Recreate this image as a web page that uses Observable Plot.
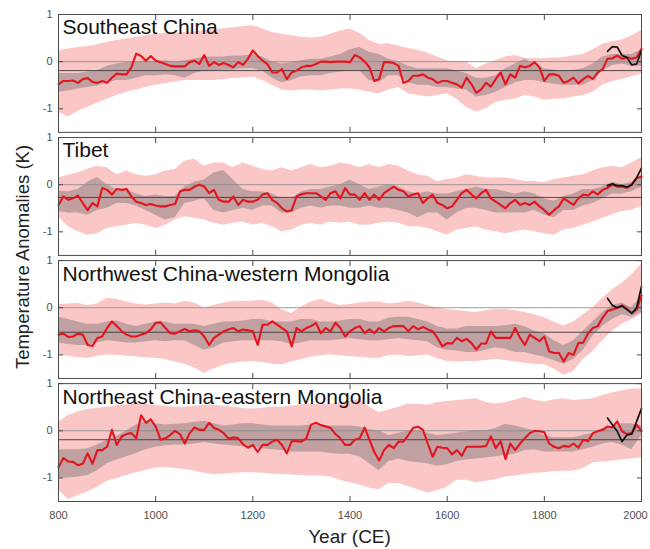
<!DOCTYPE html>
<html><head><meta charset="utf-8">
<script src="https://cdn.jsdelivr.net/npm/d3@7"></script>
<script src="https://cdn.jsdelivr.net/npm/@observablehq/plot@0.6"></script>
<style>body{margin:0;background:#fff}</style>
</head><body><div id="chart"></div>
<script>
const regions = ["Southeast China","Tibet","Northwest China-western Mongolia","Northeast China-eastern Mongolia"];
const meanLines = [-0.19,-0.27,-0.52,-0.19];
const bandYears = d3.range(800, 2001, 20);
const lineYears = d3.range(800, 2001, 10);
const instYears = [1930,1940,1950,1960,1970,1980,1990,2000];
const xTicks = [800,1000,1200,1400,1600,1800,2000];
const xLabelsInner = [800,1000,1200,1400,1600,1800];
const xLabelsEnd = [2000];
const yTicks = [-1,0,1];

// ---- Southeast China ----
const sePinkHi = [0.23,0.27,0.3,0.32,0.36,0.41,0.45,0.48,0.52,0.55, 0.58,0.6,0.6,0.62,0.63,0.66,0.68,0.7,0.72,0.74, 0.76,0.7,0.62,0.58,0.55,0.52,0.5,0.52,0.58,0.65, 0.69,0.6,0.45,0.37,0.38,0.33,0.28,0.24,0.18,0.1, 0.02,0.0,-0.01,-0.15,-0.05,0.02,0.1,0.13,0.07,0.06, 0.06,0.08,0.09,0.12,0.15,0.25,0.37,0.42,0.46,0.55, 0.66];
const sePinkLo = [-1.07,-1.18,-1.05,-0.97,-0.88,-0.8,-0.72,-0.65,-0.6,-0.55, -0.5,-0.47,-0.43,-0.4,-0.4,-0.4,-0.4,-0.38,-0.36,-0.34, -0.33,-0.4,-0.5,-0.6,-0.62,-0.6,-0.6,-0.62,-0.6,-0.58, -0.58,-0.6,-0.65,-0.68,-0.6,-0.55,-0.68,-0.72,-0.75,-0.72, -0.68,-0.8,-0.97,-1.07,-1.0,-0.86,-0.82,-0.79,-0.72,-0.75, -0.82,-0.8,-0.79,-0.75,-0.72,-0.65,-0.5,-0.42,-0.38,-0.32, -0.26];
const seGreyHi = [-0.25,-0.25,-0.25,-0.22,-0.2,-0.1,-0.05,-0.02,0.0,0.02, 0.0,0.02,0.0,0.02,0.05,0.1,0.1,0.1,0.12,0.12, 0.15,0.1,0.0,-0.05,-0.02,0.02,0.05,0.05,0.1,0.15, 0.25,0.3,0.2,0.15,0.05,0.0,-0.1,-0.15,-0.15,-0.15, -0.15,-0.2,-0.25,-0.35,-0.35,-0.3,-0.15,-0.05,0.05,-0.05, -0.15,-0.18,-0.2,-0.18,-0.15,-0.05,0.1,0.15,0.15,0.15, 0.25];
const seGreyLo = [-0.65,-0.62,-0.58,-0.55,-0.52,-0.45,-0.4,-0.4,-0.35,-0.3, -0.3,-0.28,-0.3,-0.35,-0.25,-0.2,-0.2,-0.18,-0.18,-0.15, -0.15,-0.2,-0.35,-0.45,-0.4,-0.32,-0.3,-0.3,-0.25,-0.22, -0.2,-0.2,-0.4,-0.45,-0.3,-0.3,-0.45,-0.5,-0.5,-0.55, -0.55,-0.58,-0.6,-0.75,-0.72,-0.65,-0.55,-0.45,-0.4,-0.4, -0.45,-0.48,-0.5,-0.5,-0.5,-0.4,-0.2,-0.08,-0.05,-0.1, -0.1];
const seRed = [-0.48,-0.41,-0.41,-0.40,-0.45,-0.37,-0.35,-0.43,-0.45,-0.41,
 -0.45,-0.34,-0.25,-0.27,-0.27,-0.12,0.17,0.12,0.02,0.12,
 0.02,-0.01,-0.05,-0.09,-0.1,-0.1,-0.1,-0.01,0.02,-0.05,
 0.14,-0.09,-0.01,-0.07,-0.03,-0.07,-0.12,-0.01,-0.07,0.06,
 0.24,0.12,0.02,-0.05,-0.23,-0.23,-0.16,-0.37,-0.23,-0.19,
 -0.12,-0.09,-0.09,-0.05,0,0,-0.01,0,0,0,
 -0.01,0.14,0.09,0,-0.12,-0.41,-0.37,-0.01,-0.01,-0.03,
 -0.09,-0.45,-0.41,-0.3,-0.3,-0.27,-0.34,-0.37,-0.45,-0.41,
 -0.41,-0.45,-0.48,-0.55,-0.34,-0.48,-0.66,-0.59,-0.45,-0.53,
 -0.37,-0.23,-0.48,-0.27,-0.34,-0.09,-0.12,-0.09,-0.01,-0.12,
 -0.41,-0.27,-0.27,-0.3,-0.45,-0.41,-0.34,-0.46,-0.37,-0.3,
 -0.37,-0.23,-0.16,0.06,0.07,0.13,0.06,0.09,0.06,0.09,
 0.27];
const seInst = [0.22,0.32,0.31,0.13,0.09,-0.07,-0.05,0.24];

// ---- Tibet ----
const tbPinkHi = [0.14,0.2,0.25,0.33,0.39,0.36,0.21,0.29,0.21,0.18, 0.21,0.29,0.32,0.5,0.54,0.39,0.46,0.46,0.36,0.46, 0.39,0.32,0.29,0.36,0.29,0.36,0.43,0.36,0.39,0.46, 0.43,0.36,0.43,0.36,0.43,0.39,0.29,0.21,0.18,0.07, 0.11,0.14,0.21,0.18,0.14,0.14,0.14,0.11,0.07,0.07, 0.04,0.11,0.14,0.18,0.21,0.29,0.36,0.39,0.36,0.46, 0.57];
const tbPinkLo = [-0.68,-0.89,-1.0,-1.07,-1.04,-0.93,-0.89,-0.86,-0.82,-0.86, -0.93,-0.86,-0.75,-0.68,-0.71,-0.75,-0.82,-0.86,-0.82,-0.79, -0.86,-0.82,-0.89,-1.0,-0.96,-0.86,-0.82,-0.86,-0.79,-0.82, -0.79,-0.86,-0.86,-0.82,-0.79,-0.82,-0.89,-0.89,-0.93,-1.0, -1.07,-0.96,-0.93,-0.89,-0.96,-1.0,-1.04,-1.0,-0.96,-1.0, -1.04,-1.07,-0.96,-0.93,-0.86,-0.79,-0.71,-0.64,-0.57,-0.54, -0.46];
const tbGreyHi = [-0.14,-0.15,-0.1,0.05,0.15,0.0,-0.1,-0.1,-0.2,-0.25, -0.22,-0.25,-0.25,-0.05,0.05,0.1,0.25,0.3,0.1,-0.1, -0.15,-0.15,-0.2,-0.3,-0.3,-0.15,-0.1,-0.1,-0.05,0.0, 0.1,0.0,-0.1,-0.05,0.0,-0.05,-0.15,-0.2,-0.15,-0.2, -0.2,-0.15,-0.1,-0.05,-0.1,-0.1,-0.15,-0.2,-0.15,-0.2, -0.3,-0.35,-0.25,-0.2,-0.1,-0.1,-0.05,0.05,0.0,0.05, 0.2];
const tbGreyLo = [-0.57,-0.6,-0.6,-0.65,-0.55,-0.5,-0.4,-0.4,-0.45,-0.55, -0.65,-0.75,-0.7,-0.4,-0.35,-0.3,-0.55,-0.6,-0.55,-0.5, -0.55,-0.45,-0.45,-0.6,-0.6,-0.5,-0.45,-0.5,-0.45,-0.45, -0.5,-0.5,-0.45,-0.5,-0.5,-0.55,-0.6,-0.7,-0.6,-0.6, -0.75,-0.6,-0.5,-0.5,-0.55,-0.6,-0.6,-0.6,-0.6,-0.55, -0.65,-0.7,-0.55,-0.55,-0.45,-0.4,-0.3,-0.2,-0.2,-0.15, -0.05];
const tbRed = [-0.43,-0.25,-0.32,-0.29,-0.23,-0.39,-0.54,-0.39,-0.46,-0.07,
 -0.11,-0.21,-0.09,-0.11,-0.09,-0.25,-0.36,-0.39,-0.43,-0.41,
 -0.44,-0.46,-0.46,-0.43,-0.41,-0.14,-0.11,-0.11,-0.04,0,
 -0.04,-0.18,-0.11,-0.32,-0.36,-0.36,-0.25,-0.43,-0.32,-0.36,
 -0.36,-0.32,-0.21,-0.18,-0.32,-0.39,-0.5,-0.57,-0.54,-0.25,
 -0.2,-0.18,-0.18,-0.18,-0.25,-0.32,-0.18,-0.14,-0.29,-0.07,
 -0.21,-0.21,-0.32,-0.18,-0.32,-0.21,-0.32,-0.18,-0.11,-0.04,
 -0.11,-0.14,-0.25,-0.21,-0.18,-0.39,-0.29,-0.21,-0.39,-0.43,
 -0.5,-0.46,-0.32,-0.18,-0.11,-0.21,-0.29,-0.18,-0.11,-0.29,
 -0.36,-0.43,-0.5,-0.39,-0.32,-0.43,-0.39,-0.43,-0.36,-0.46,
 -0.54,-0.64,-0.54,-0.46,-0.29,-0.36,-0.43,-0.29,-0.21,-0.23,
 -0.14,-0.21,-0.11,-0.07,0,-0.04,-0.04,-0.07,0,0.14,
 0.17];
const tbInst = [-0.02,0.02,-0.02,-0.02,-0.05,0.0,0.15,0.35];

// ---- Northwest China-western Mongolia ----
const nwPinkHi = [0.07,0.08,0.09,0.05,0.08,0.2,0.18,0.12,0.08,0.06, 0.08,0.1,0.08,0.14,0.1,0.0,0.05,0.1,0.14,0.13, 0.14,0.16,0.1,-0.05,-0.12,0.02,0.12,0.18,0.1,0.05, 0.07,0.1,0.12,0.12,0.08,0.1,0.14,0.1,0.04,0.0, -0.04,-0.06,-0.08,-0.1,-0.06,-0.04,-0.04,-0.06,-0.1,-0.15, -0.21,-0.3,-0.39,-0.3,-0.15,0.0,0.2,0.38,0.52,0.7, 0.92];
const nwPinkLo = [-1.0,-1.03,-1.06,-1.07,-1.03,-1.0,-1.01,-1.03,-1.04,-1.06, -1.07,-1.1,-1.15,-1.2,-1.28,-1.39,-1.3,-1.22,-1.18,-1.15, -1.14,-1.16,-1.2,-1.21,-1.15,-1.1,-1.05,-1.02,-1.0,-1.02, -1.04,-1.05,-1.07,-1.07,-1.02,-1.0,-1.04,-1.02,-1.0,-1.08, -1.14,-1.15,-1.14,-1.14,-1.12,-1.1,-1.12,-1.15,-1.18,-1.2, -1.21,-1.3,-1.43,-1.35,-1.1,-0.93,-0.7,-0.5,-0.35,-0.25, -0.14];
const nwGreyHi = [-0.2,-0.25,-0.3,-0.35,-0.35,-0.3,-0.28,-0.35,-0.4,-0.35, -0.3,-0.3,-0.35,-0.35,-0.35,-0.4,-0.35,-0.3,-0.3,-0.28, -0.25,-0.25,-0.3,-0.3,-0.3,-0.25,-0.25,-0.3,-0.3,-0.28, -0.25,-0.25,-0.3,-0.3,-0.22,-0.2,-0.2,-0.25,-0.3,-0.4, -0.45,-0.45,-0.4,-0.4,-0.4,-0.4,-0.38,-0.35,-0.4,-0.5, -0.55,-0.7,-0.8,-0.7,-0.5,-0.3,-0.1,0.05,0.1,0.0, 0.25];
const nwGreyLo = [-0.75,-0.78,-0.8,-0.8,-0.75,-0.7,-0.72,-0.75,-0.75,-0.72, -0.7,-0.72,-0.7,-0.7,-0.8,-0.9,-0.85,-0.75,-0.72,-0.7, -0.7,-0.7,-0.7,-0.72,-0.78,-0.75,-0.7,-0.7,-0.7,-0.68, -0.65,-0.68,-0.7,-0.7,-0.68,-0.65,-0.68,-0.7,-0.72,-0.85, -0.9,-0.92,-0.95,-0.95,-0.9,-0.85,-0.88,-0.95,-0.95,-1.0, -1.05,-1.12,-1.2,-1.1,-0.9,-0.6,-0.4,-0.25,-0.15,-0.2, -0.1];
const nwRed = [-0.57,-0.55,-0.62,-0.61,-0.55,-0.57,-0.79,-0.81,-0.64,-0.61,
 -0.43,-0.29,-0.39,-0.5,-0.57,-0.61,-0.61,-0.57,-0.54,-0.46,
 -0.32,-0.31,-0.43,-0.54,-0.55,-0.5,-0.45,-0.5,-0.48,-0.5,
 -0.61,-0.79,-0.64,-0.57,-0.5,-0.46,-0.43,-0.5,-0.46,-0.48,
 -0.5,-0.79,-0.36,-0.36,-0.29,-0.36,-0.43,-0.5,-0.82,-0.43,
 -0.5,-0.43,-0.39,-0.32,-0.54,-0.43,-0.5,-0.32,-0.43,-0.61,
 -0.5,-0.43,-0.39,-0.54,-0.46,-0.54,-0.43,-0.5,-0.43,-0.39,
 -0.39,-0.39,-0.5,-0.39,-0.46,-0.41,-0.46,-0.5,-0.64,-0.82,
 -0.75,-0.76,-0.64,-0.71,-0.66,-0.75,-0.89,-0.76,-0.76,-0.5,
 -0.64,-0.64,-0.64,-0.64,-0.43,-0.64,-0.79,-0.57,-0.64,-0.71,
 -0.61,-0.93,-0.96,-0.96,-1.14,-0.96,-1.0,-0.75,-0.74,-0.54,
 -0.43,-0.39,-0.21,-0.07,-0.04,0,0.05,-0.02,-0.11,-0.04,
 0.26];
const nwInst = [0.2,0.05,0.0,0.04,-0.04,-0.12,0.0,0.45];

// ---- Northeast China-eastern Mongolia ----
const nePinkHi = [0.18,0.32,0.4,0.45,0.48,0.5,0.53,0.55,0.57,0.56, 0.54,0.52,0.5,0.5,0.52,0.54,0.54,0.52,0.5,0.47, 0.46,0.48,0.5,0.5,0.52,0.55,0.57,0.55,0.56,0.6, 0.62,0.68,0.5,0.39,0.44,0.5,0.57,0.56,0.54,0.6, 0.62,0.64,0.66,0.68,0.6,0.57,0.6,0.65,0.71,0.65, 0.61,0.66,0.68,0.64,0.66,0.68,0.75,0.8,0.85,0.88, 0.89];
const nePinkLo = [-1.25,-1.46,-1.38,-1.3,-1.2,-1.07,-1.02,-0.95,-0.89,-0.84, -0.79,-0.78,-0.8,-0.82,-0.86,-0.9,-0.93,-0.92,-0.9,-0.89, -0.89,-0.9,-0.92,-0.93,-0.94,-0.95,-0.96,-0.96,-0.98,-1.05, -1.1,-1.15,-1.22,-1.25,-1.12,-1.12,-1.18,-1.25,-1.32,-1.27, -1.2,-1.05,-1.05,-1.1,-1.07,-1.04,-0.98,-0.96,-0.93,-0.9, -0.89,-0.87,-0.86,-0.86,-0.8,-0.68,-0.66,-0.64,-0.62,-0.6, -0.57];
const neGreyHi = [-0.4,-0.4,-0.4,-0.38,-0.3,-0.2,-0.12,0.0,0.12,0.2, 0.15,0.12,0.14,0.15,0.18,0.2,0.15,0.1,0.12,0.15, 0.15,0.12,0.1,0.1,0.1,0.1,0.12,0.12,0.1,0.1, 0.1,0.08,0.02,0.0,-0.1,-0.05,0.0,0.0,-0.05,-0.1, -0.08,-0.05,-0.02,0.0,0.0,0.05,0.14,0.1,0.05,0.0, -0.1,-0.15,-0.15,-0.15,-0.1,-0.05,0.05,0.1,0.15,0.15, 0.1];
const neGreyLo = [-1.0,-1.0,-0.98,-0.95,-0.85,-0.7,-0.62,-0.55,-0.48,-0.4, -0.35,-0.32,-0.3,-0.3,-0.28,-0.25,-0.28,-0.3,-0.32,-0.34, -0.35,-0.38,-0.4,-0.42,-0.45,-0.45,-0.45,-0.45,-0.48,-0.5, -0.5,-0.55,-0.7,-0.85,-0.65,-0.6,-0.65,-0.68,-0.7,-0.75, -0.72,-0.65,-0.62,-0.6,-0.58,-0.55,-0.52,-0.5,-0.42,-0.4, -0.45,-0.45,-0.45,-0.45,-0.4,-0.35,-0.28,-0.25,-0.3,-0.4, -0.1];
const neRed = [-0.77,-0.58,-0.65,-0.66,-0.73,-0.7,-0.48,-0.7,-0.41,-0.41,
 -0.34,0.02,-0.3,-0.12,-0.07,-0.05,-0.16,0.33,0.17,0.24,
 0.09,-0.19,-0.16,-0.09,0,-0.07,-0.27,-0.05,0.07,0.02,
 0.02,0.17,0.06,0.02,-0.05,-0.17,-0.14,-0.16,-0.29,-0.36,
 -0.3,-0.45,-0.3,-0.3,-0.23,-0.19,-0.3,-0.48,-0.22,-0.22,
 -0.23,-0.16,0.13,0.17,0.12,0.09,0.06,-0.07,-0.16,-0.3,
 -0.3,-0.19,-0.16,0.07,-0.19,-0.45,-0.63,-0.41,-0.3,-0.37,
 -0.23,-0.23,-0.09,0.06,0.09,0.02,-0.27,-0.55,-0.34,-0.36,
 -0.37,-0.5,-0.41,-0.53,-0.34,-0.34,-0.34,-0.34,-0.32,-0.12,
 -0.37,-0.22,-0.6,-0.27,-0.41,-0.27,-0.16,-0.05,0,-0.01,
 -0.03,-0.27,-0.34,-0.37,-0.32,-0.34,-0.27,-0.36,-0.19,-0.22,
 -0.05,-0.01,0.02,0.09,0.07,0.2,-0.01,-0.07,-0.05,0.13,
 -0.01];
const neInst = [0.27,0.13,-0.01,-0.23,-0.09,-0.07,0.2,0.47];

// ---- assemble tables ----
const pinkHi = [sePinkHi, tbPinkHi, nwPinkHi, nePinkHi];
const pinkLo = [sePinkLo, tbPinkLo, nwPinkLo, nePinkLo];
const greyHi = [seGreyHi, tbGreyHi, nwGreyHi, neGreyHi];
const greyLo = [seGreyLo, tbGreyLo, nwGreyLo, neGreyLo];
const reds = [seRed, tbRed, nwRed, neRed];
const insts = [seInst, tbInst, nwInst, neInst];

const bands = regions.flatMap((r, i) => bandYears.map((yr, j) => ({
  region: r, year: yr, pLo: pinkLo[i][j], pHi: pinkHi[i][j], gLo: greyLo[i][j], gHi: greyHi[i][j]
})));
const redData = regions.flatMap((r, i) => lineYears.map((yr, j) => ({region: r, year: yr, value: reds[i][j]})));
const instData = regions.flatMap((r, i) => instYears.map((yr, j) => ({region: r, year: yr, value: insts[i][j]})));
const refData = regions.map((r, i) => ({region: r, mean: meanLines[i], zero: 0}));

const fmt = d => d < 0 ? "-" + Math.abs(d) : String(d);
const frameColor = "#4a4a4a";
const labelColor = "#505050";

const chart = Plot.plot({
  width: 650,
  height: 549,
  marginLeft: 58,
  marginRight: 9,
  marginTop: 14,
  marginBottom: 48,
  style: {fontFamily: "'Liberation Sans', Arial, sans-serif", fontSize: "11px", color: labelColor, background: "#fff"},
  x: {domain: [800, 2000]},
  y: {domain: [-1.5, 1]},
  fy: {domain: regions, axis: null, paddingInner: 0.042, paddingOuter: 0, round: false},
  marks: [
    Plot.areaY(bands, {x: "year", y1: "pLo", y2: "pHi", fy: "region", fill: "#fac6c6"}),
    Plot.areaY(bands, {x: "year", y1: "gLo", y2: "gHi", fy: "region", fill: "#c0a0a0"}),
    Plot.ruleY(refData, {y: "zero", fy: "region", stroke: "#8f8f8f", strokeWidth: 0.9}),
    Plot.ruleY(refData, {y: "mean", fy: "region", stroke: "#3a3a3a", strokeWidth: 0.9}),
    Plot.line(redData, {x: "year", y: "value", fy: "region", stroke: "#e6141e", strokeWidth: 2.1}),
    Plot.line(instData, {x: "year", y: "value", fy: "region", stroke: "#111", strokeWidth: 1.7}),
    Plot.frame({stroke: frameColor, strokeWidth: 1}),
    Plot.axisX({anchor: "bottom", ticks: xTicks, tickSize: -5, tickFormat: () => "", facetAnchor: null, label: null, stroke: frameColor}),
    Plot.axisX({anchor: "top", ticks: xTicks, tickSize: -5, tickFormat: () => "", facetAnchor: null, label: null, stroke: frameColor}),
    Plot.axisY({anchor: "left", ticks: yTicks, tickSize: -5, tickFormat: () => "", label: null, stroke: frameColor}),
    Plot.axisY({anchor: "right", ticks: yTicks, tickSize: -5, tickFormat: () => "", label: null, stroke: frameColor}),
    Plot.axisY({anchor: "left", ticks: yTicks, tickSize: 0, tickPadding: 6, tickFormat: fmt, label: null, fill: labelColor}),
    Plot.axisX({anchor: "bottom", ticks: xLabelsInner, tickSize: 0, tickPadding: 10, tickFormat: d => String(d), label: null, fill: labelColor}),
    Plot.axisX({anchor: "bottom", ticks: xLabelsEnd, tickSize: 0, tickPadding: 10, tickFormat: d => String(d), label: null, fill: labelColor, dx: -6}),
    Plot.text(regions, {fy: d => d, text: d => d, frameAnchor: "top-left", lineAnchor: "top", dx: 4, dy: 5, fontSize: 21, fill: "#111"})
  ]
});

document.getElementById("chart").appendChild(chart);

const svg = d3.select(chart);
svg.append("text")
  .attr("x", 349.5).attr("y", 543)
  .attr("text-anchor", "middle")
  .attr("font-size", 19)
  .attr("fill", "#222")
  .text("Year (CE)");
svg.append("text")
  .attr("transform", "translate(29,257) rotate(-90)")
  .attr("text-anchor", "middle")
  .attr("font-size", 18.5)
  .attr("fill", "#222")
  .text("Temperature Anomalies (K)");
</script>
</body></html>
